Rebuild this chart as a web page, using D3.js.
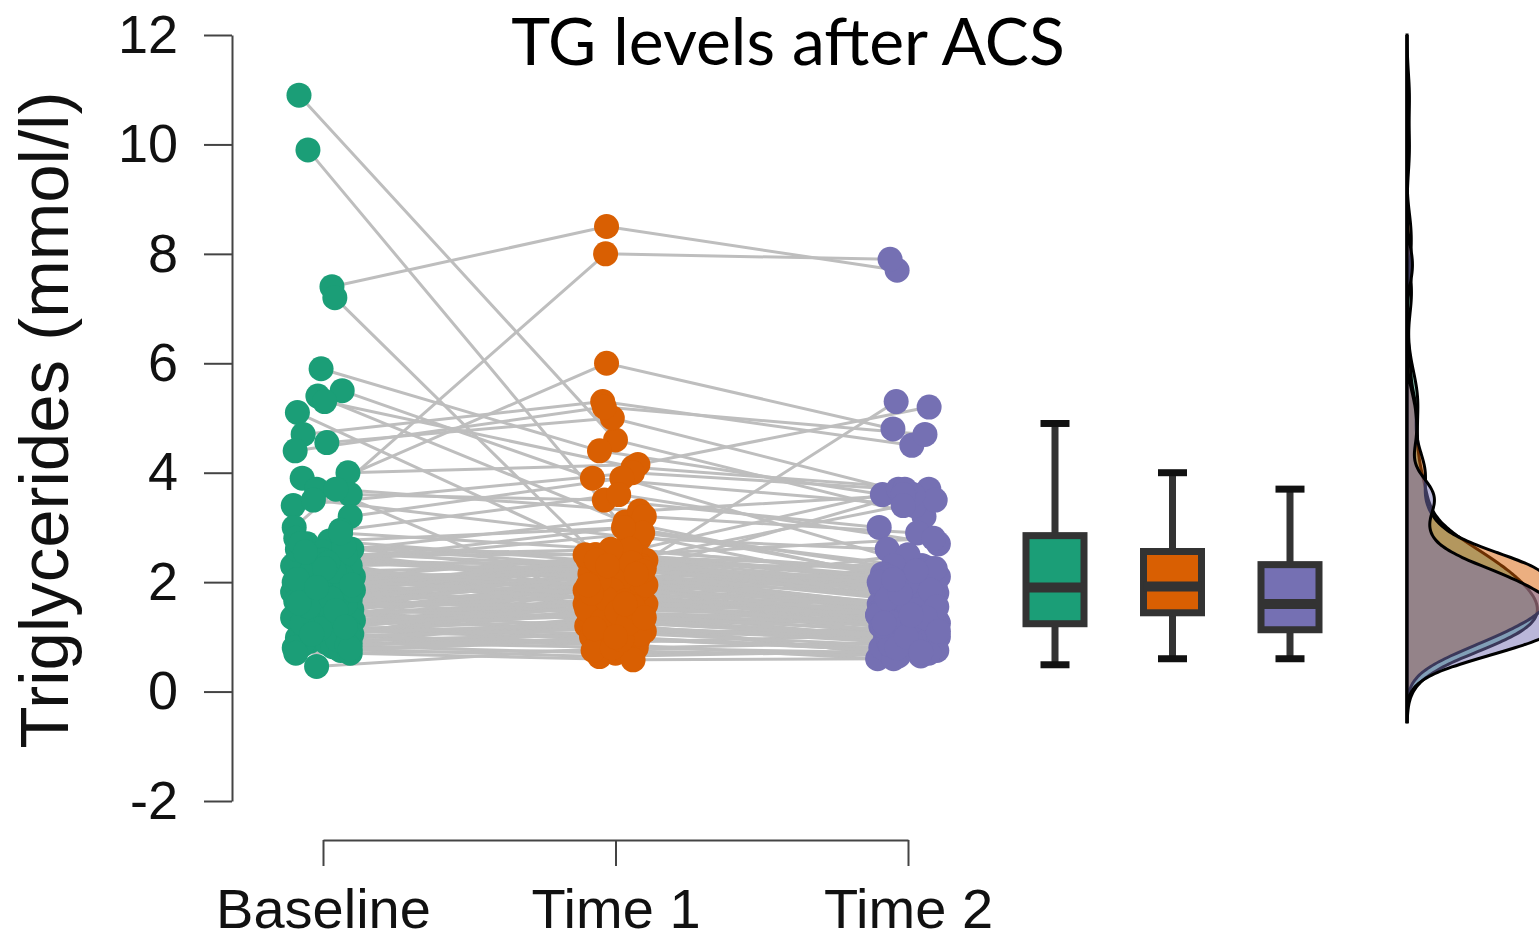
<!DOCTYPE html>
<html>
<head>
<meta charset="utf-8">
<script src="https://d3js.org/d3.v7.min.js"></script>
<style>
body { margin: 0; background: #fff; }
svg { display: block; }
.tick text { font-family: 'Liberation Sans', Arial, sans-serif; fill: #111; }
</style>
</head>
<body>
<div id="plot"></div>
<script>
var width = 1539, height = 940;

var groups = ["Baseline", "Time 1", "Time 2"];
var colors = ["#1b9e77", "#d95f02", "#7570b3"];
var yTicks = [-2, 0, 2, 4, 6, 8, 10, 12];

// one value per subject, same order in every array
var baseline = [10.9, 9.9, 7.4, 7.2, 5.9, 5.5, 5.4, 5.3, 5.1, 4.7, 4.55, 4.4, 4.0, 3.9, 3.7, 3.6, 3.4, 3.2, 3.0, 3.7,
  3.5, 2.95, 2.8, 2.75, 2.7, 2.6, 2.55, 2.5, 2.45, 2.4, 2.35, 2.3, 2.25, 2.2, 2.15, 2.1, 2.05, 2.0, 2.0, 1.95,
  2.6, 2.4, 2.2, 2.1, 1.92, 1.88, 1.85, 1.8, 1.75, 1.7, 1.68, 1.65, 1.6, 1.55, 1.5, 1.5, 1.45, 1.42, 1.4, 1.38,
  1.35, 1.32, 1.3, 1.28, 1.26, 1.6, 1.72, 1.82, 1.22, 1.2, 1.18, 1.15, 1.12, 1.1, 1.08, 1.05, 1.02, 1.0, 0.98, 0.95,
  0.92, 0.9, 0.88, 0.85, 0.82, 0.8, 0.75, 0.7, 0.7, 0.46,
  1.9, 1.6, 2.3, 1.4, 1.75, 2.0, 1.3, 2.5, 1.1, 1.85, 2.7, 1.5, 1.2, 2.1, 1.65, 0.95, 2.4, 1.45, 1.0, 1.8,
  2.2, 1.35, 2.65, 1.15, 1.95, 1.25, 2.35, 1.55, 0.85, 2.05, 1.7, 2.9, 1.05, 2.25, 1.62, 0.78, 1.9, 1.48, 2.55, 1.18];
var time1 = [4.6, 2.9, 8.5, 2.5, 4.4, 3.9, 3.1, 4.1, 2.2, 5.3, 5.0, 5.2, 4.15, 1.7, 6.0, 3.5, 4.0, 3.9, 8.0, 3.3,
  2.8, 3.6, 2.4, 3.0, 2.1, 3.2, 1.9, 2.5, 2.0, 2.3, 1.5, 2.9, 1.8, 2.3, 1.6, 2.5, 1.95, 2.2, 1.4, 2.4,
  2.0, 3.0, 1.7, 2.2, 1.3, 2.1, 1.6, 2.3, 1.9, 1.45, 2.0, 1.55, 2.4, 1.8, 1.2, 2.1, 1.5, 1.7, 2.2, 1.35,
  1.9, 1.1, 1.65, 2.45, 1.4, 2.5, 1.25, 2.35, 1.6, 1.0, 1.75, 1.3, 0.95, 1.5, 1.15, 1.85, 0.9, 1.2, 1.45, 0.85,
  1.05, 0.8, 1.35, 0.7, 1.1, 0.64, 0.95, 0.75, 0.58, 0.8,
  2.2, 1.9, 2.4, 1.6, 2.1, 2.3, 1.5, 2.6, 1.2, 2.0, 2.25, 1.75, 1.4, 2.15, 1.85, 1.3, 2.05, 1.95, 1.15, 2.35,
  1.85, 1.65, 2.5, 1.05, 1.7, 1.45, 2.2, 2.05, 0.95, 1.8, 2.15, 2.6, 1.25, 1.95, 1.55, 1.0, 2.4, 1.35, 2.3, 1.6];
var time2 = [3.2, 1.9, 7.7, 2.0, 3.6, 3.4, 2.1, 3.7, 1.8, 4.5, 3.5, 4.7, 5.2, 5.3, 4.8, 3.0, 3.7, 2.3, 7.9, 3.6,
  2.6, 2.7, 3.7, 2.0, 1.9, 2.9, 2.2, 2.8, 1.6, 2.3, 1.4, 2.25, 2.5, 1.7, 1.3, 2.1, 1.5, 1.8, 1.2, 1.9,
  3.6, 2.2, 1.1, 2.0, 1.6, 1.4, 2.3, 1.7, 1.25, 1.0, 2.2, 1.5, 1.8, 1.15, 0.95, 2.15, 1.35, 1.2, 1.6, 0.9,
  2.0, 1.1, 1.45, 1.85, 0.85, 2.1, 1.3, 3.4, 1.55, 0.8, 1.4, 1.0, 0.75, 1.7, 0.7, 1.25, 1.05, 0.65, 1.3, 0.6,
  1.15, 0.9, 1.0, 0.7, 0.95, 0.75, 0.8, 0.65, 0.6, 0.7,
  1.5, 1.3, 1.9, 1.2, 1.55, 1.7, 1.05, 2.1, 0.9, 1.6, 2.0, 1.35, 1.1, 1.45, 1.65, 0.95, 1.75, 1.25, 1.0, 1.4,
  1.6, 1.15, 2.25, 0.85, 1.5, 1.2, 1.85, 1.3, 0.8, 1.55, 1.7, 2.2, 1.0, 1.35, 1.25, 0.72, 1.8, 1.1, 2.05, 1.4];

// horizontal jitter of each dot, as a fraction of the jitter half width
var jitterBaseline = [-0.75, -0.47, 0.28, 0.37, -0.06, 0.6, -0.16, 0.05, -0.8, -0.62, 0.12, -0.87, 0.78, -0.65, -0.2, 0.85, -0.93, 0.85, -0.9,
  0.4, -0.3, 0.55, -0.85, 0.2, -0.5, 0.9, 0.0, -0.7, 0.65, -0.2, 0.35, -0.95, 0.75, 0.1, -0.4, 0.95, -0.6, 0.3, -0.1,
  0.8, -0.8, 0.5, -0.35, 0.15, 0.7, -0.65, 0.25, -0.9, 0.6, -0.15, 0.85, -0.5, 0.05, 0.45, -0.75, 0.9, -0.25, 0.2, -0.85,
  0.6, -0.45, 0.35, 0.95, -0.6, 0.0, 0.7, -0.3, -0.95, 0.5, 0.15, -0.7, 0.8, -0.1, 0.4, -0.55, 0.9, -0.2, 0.25, -0.8,
  0.65, -0.4, 0.1, 0.85, -0.65, 0.3, -0.9, 0.55, -0.85, 0.85, -0.2,
  0.3, -0.6, 0.85, -0.15, 0.5, -0.9, 0.1, 0.7, -0.4, 0.95, -0.7, 0.2, -0.25, 0.6, -0.85, 0.45, 0.0, -0.5, 0.8, -0.3,
  0.35, -0.95, 0.65, -0.1, 0.9, -0.65, 0.15, -0.45, 0.75, -0.8, 0.25, 0.55, -0.35, 0.05, -0.75, 0.85, -0.2, 0.4, -0.55, 0.7];
var jitterTime1 = [0.0, 0.4, -0.28, -0.6, -0.5, -0.72, 0.3, 0.55, 0.8, -0.4, -0.1, -0.35, 0.7, -0.9, -0.28, -0.35, 0.53, 0.2, -0.31,
  0.75, 0.75, 0.1, -0.85, 0.45, -0.2, 0.9, -0.65, 0.3, 0.6, -0.4, 0.05, 0.85, -0.75, 0.2, -0.95, 0.5, -0.3, 0.7, -0.1,
  0.95, -0.55, 0.25, -0.8, 0.4, 0.65, -0.45, 0.0, 0.8, -0.7, 0.15, -0.25, 0.9, -0.6, 0.35, -0.9, 0.55, -0.15, 0.75, -0.5,
  0.1, -0.85, 0.45, 0.85, -0.35, 0.2, -0.65, 0.6, -0.05, 0.95, -0.75, 0.3, -0.4, 0.7, -0.2, 0.5, -0.95, 0.15, 0.8, -0.6,
  0.4, -0.3, 0.65, -0.8, 0.0, 0.9, -0.5, 0.25, -0.7, 0.55, -0.1,
  -0.35, 0.8, -0.7, 0.25, -0.05, 0.6, -0.9, 0.45, 0.1, -0.55, 0.9, -0.2, 0.35, -0.8, 0.7, -0.4, 0.15, 0.95, -0.65, 0.5,
  -0.1, 0.3, -0.95, 0.75, -0.3, 0.05, 0.85, -0.5, 0.2, -0.75, 0.65, -0.15, 0.4, -0.85, 0.55, 0.0, -0.6, 0.9, -0.25, 0.3];
var jitterTime2 = [0.5, -0.3, -0.34, 0.7, -0.8, 0.2, -0.6, 0.65, 0.9, 0.12, 0.85, 0.53, 0.66, -0.37, -0.47, -0.9, -0.3, 0.4, -0.56,
  0.15, -0.65, 0.95, -0.1, 0.6, -0.85, 0.3, -0.4, 0.8, -0.2, 0.45, -0.95, 0.7, 0.0, -0.55, 0.9, -0.3, 0.25, -0.75, 0.5,
  0.85, -0.15, 0.35, -0.6, 0.1, -0.9, 0.65, -0.45, 0.2, 0.95, -0.7, 0.4, -0.05, 0.75, -0.35, 0.55, -0.8, 0.05, 0.9, -0.5,
  0.3, -0.25, 0.6, -0.9, 0.15, 0.8, -0.6, 0.45, -0.15, 0.7, -0.85, 0.2, 0.95, -0.4, 0.5, -0.7, 0.0, 0.85, -0.3, 0.35,
  -0.95, 0.6, -0.2, 0.75, -0.55, 0.1, 0.9, -0.8, 0.4, -0.45, 0.65,
  0.6, -0.4, 0.1, -0.85, 0.75, -0.2, 0.35, 0.95, -0.6, 0.0, -0.9, 0.5, -0.3, 0.8, -0.7, 0.2, 0.65, -0.5, 0.05, -0.95,
  0.45, -0.15, 0.85, -0.55, 0.3, -0.8, 0.7, 0.15, -0.35, 0.9, -0.65, 0.25, -0.05, 0.55, -0.75, 0.4, -0.25, 0.95, -0.45, 0.1];

// box plot summaries
var boxLow = [0.49, 0.6, 0.6];
var boxQ1 = [1.24, 1.44, 1.13];
var boxMedian = [1.9, 1.92, 1.6];
var boxQ3 = [2.85, 2.56, 2.32];
var boxHigh = [4.9, 4.0, 3.7];

var series = [baseline, time1, time2];
var jitters = [jitterBaseline, jitterTime1, jitterTime2];

var svg = d3.select("#plot").append("svg")
  .attr("width", width).attr("height", height);

var y = d3.scaleLinear().domain([-2, 12]).range([801, 35]);
var x = d3.scalePoint().domain(groups).range([323, 908]);
var xBox = d3.scalePoint().domain(groups).range([1055, 1290]);
var jitterHalf = 32;

function dotX(g, i) { return x(groups[g]) + jitters[g][i] * jitterHalf; }

// y axis
var yAxis = svg.append("g").attr("transform", "translate(232,0)")
  .call(d3.axisLeft(y).tickValues(yTicks).tickSize(28).tickSizeOuter(0).tickPadding(26)
    .tickFormat(function (d) { return String(d); }));
yAxis.selectAll("text").style("font-size", "54px");
yAxis.selectAll("line, path").attr("stroke", "#444").attr("stroke-width", 2);

// x axis
var xAxis = svg.append("g").attr("transform", "translate(0,840)")
  .call(d3.axisBottom(x).tickSize(26).tickSizeOuter(0).tickPadding(22));
xAxis.selectAll("text").style("font-size", "56px");
xAxis.selectAll("line, path").attr("stroke", "#444").attr("stroke-width", 2);

svg.append("text")
  .attr("transform", "translate(68,420) rotate(-90)")
  .attr("text-anchor", "middle")
  .style("font-family", "'Liberation Sans', Arial, sans-serif")
  .style("font-size", "69px")
  .style("fill", "#111")
  .text("Triglycerides (mmol/l)");

svg.append("text")
  .attr("x", 788).attr("y", 65)
  .attr("text-anchor", "middle")
  .style("font-family", "Lato, 'Open Sans', sans-serif")
  .style("font-size", "66px")
  .style("fill", "#000")
  .text("TG levels after ACS");

// subject lines
var line = d3.line();
svg.append("g").selectAll("path")
  .data(baseline.map(function (d, i) { return i; }))
  .enter().append("path")
  .attr("d", function (i) {
    return line([0, 1, 2].map(function (g) { return [dotX(g, i), y(series[g][i])]; }));
  })
  .attr("fill", "none")
  .attr("stroke", "#bebebe")
  .attr("stroke-width", 3);

// dots
[0, 1, 2].forEach(function (g) {
  svg.append("g").selectAll("circle")
    .data(series[g])
    .enter().append("circle")
    .attr("cx", function (d, i) { return dotX(g, i); })
    .attr("cy", function (d) { return y(d); })
    .attr("r", 12.5)
    .attr("fill", colors[g]);
});

// box plots
var boxW = 58, capW = 29;
groups.forEach(function (name, g) {
  var cx = xBox(name);
  var b = svg.append("g");
  b.append("line").attr("x1", cx).attr("x2", cx)
    .attr("y1", y(boxHigh[g])).attr("y2", y(boxLow[g]))
    .attr("stroke", "#333").attr("stroke-width", 7);
  [boxHigh[g], boxLow[g]].forEach(function (v) {
    b.append("line").attr("x1", cx - capW / 2).attr("x2", cx + capW / 2)
      .attr("y1", y(v)).attr("y2", y(v))
      .attr("stroke", "#111").attr("stroke-width", 7);
  });
  b.append("rect").attr("x", cx - boxW / 2).attr("width", boxW)
    .attr("y", y(boxQ3[g])).attr("height", y(boxQ1[g]) - y(boxQ3[g]))
    .attr("fill", colors[g]).attr("stroke", "#333").attr("stroke-width", 7);
  b.append("line").attr("x1", cx - boxW / 2).attr("x2", cx + boxW / 2)
    .attr("y1", y(boxMedian[g])).attr("y2", y(boxMedian[g]))
    .attr("stroke", "#333").attr("stroke-width", 10);
});

// half-violin densities on the right
function kde(values, bw, grid) {
  return grid.map(function (t) {
    var s = 0;
    values.forEach(function (v) { var u = (t - v) / bw; s += Math.exp(-0.5 * u * u); });
    return [t, s / (values.length * bw * Math.sqrt(2 * Math.PI))];
  });
}
function nrd0(values) {
  var sorted = values.slice().sort(d3.ascending);
  var iqr = d3.quantile(sorted, 0.75) - d3.quantile(sorted, 0.25);
  return 0.9 * Math.min(d3.deviation(values), iqr / 1.34) * Math.pow(values.length, -0.2);
}
var grid = d3.range(-0.55, 12.001, 0.05);
var densities = series.map(function (vals) { return kde(vals, 1.3 * nrd0(vals), grid); });
var maxDens = d3.max(densities, function (d) { return d3.max(d, function (p) { return p[1]; }); });
var xd = d3.scaleLinear().domain([0, maxDens]).range([1407, 1565]);
var area = d3.area()
  .y(function (p) { return y(p[0]); })
  .x0(xd(0))
  .x1(function (p) { return xd(p[1]); })
  .curve(d3.curveBasis);
densities.forEach(function (d, g) {
  svg.append("path").datum(d)
    .attr("d", area)
    .attr("fill", colors[g]).attr("fill-opacity", 0.5)
    .attr("stroke", "#000").attr("stroke-width", 3);
});
</script>
</body>
</html>
